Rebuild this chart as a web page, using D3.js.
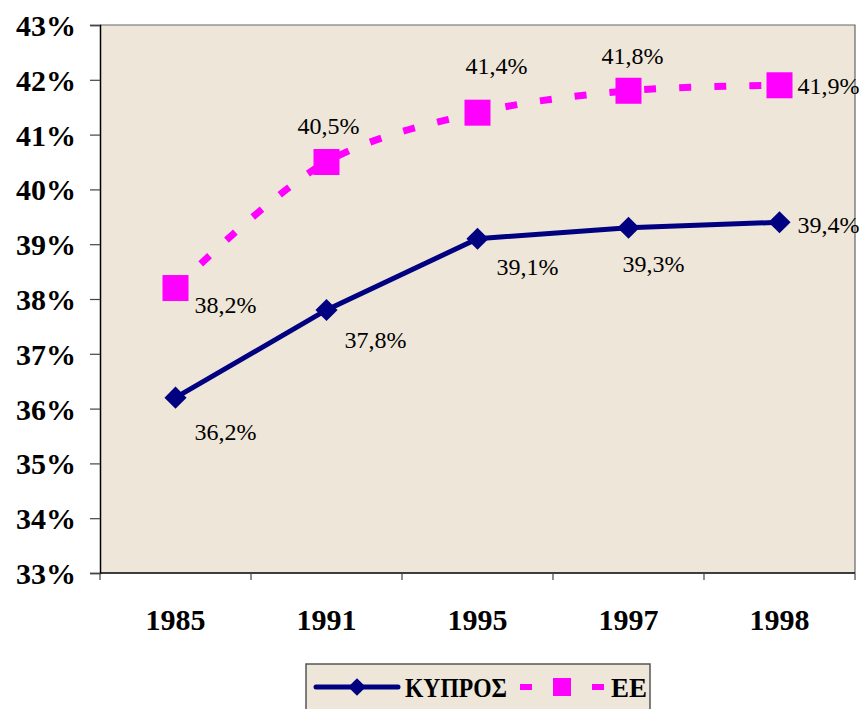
<!DOCTYPE html>
<html>
<head>
<meta charset="utf-8">
<script src="https://cdn.jsdelivr.net/npm/d3@7"></script>
<style>
  body { margin: 0; background: #fff; }
  svg { display: block; }
</style>
</head>
<body>
<div id="chart"></div>
<script>
//Chart Data
const years = ["1985", "1991", "1995", "1997", "1998"];
const kyprosValues = [36.2, 37.8, 39.1, 39.3, 39.4];
const eeValues = [38.2, 40.5, 41.4, 41.8, 41.9];
const yTicks = [33, 34, 35, 36, 37, 38, 39, 40, 41, 42, 43];
const seriesNames = ["ΚΥΠΡΟΣ", "ΕΕ"];

//Chart Variables and Constants
const width = 862;
const height = 709;
const plot = { left: 100, top: 25, right: 855, bottom: 573 };
const bg = "#EEE6D8";
const navy = "#000080";
const magenta = "#FF00FF";
const serif = "Liberation Serif";
const fmt = (v) => v.toFixed(1).replace(".", ",") + "%";

//Label offsets (dx, dy, anchor) per point
const kyprosLabelPos = [[19, 34, "start"], [18, 30, "start"], [19, 28, "start"], [-6, 36, "start"], [18, 2, "start"]];
const eeLabelPos = [[19, 17, "start"], [2, -36, "middle"], [19, -47, "middle"], [4, -35, "middle"], [18, 0, "start"]];

const svg = d3.select("#chart").append("svg")
  .attr("width", width)
  .attr("height", height)
  .attr("font-family", serif);

//Scales
const x = d3.scaleBand().domain(years).range([plot.left, plot.right]);
const y = d3.scaleLinear().domain([33, 43]).range([plot.bottom, plot.top]);
const cx = (d) => x(d) + x.bandwidth() / 2;

//Plot background
svg.append("rect")
  .attr("x", plot.left).attr("y", plot.top)
  .attr("width", plot.right - plot.left).attr("height", plot.bottom - plot.top)
  .attr("fill", bg);
svg.append("path")
  .attr("d", `M${plot.left},${plot.top}H${plot.right}V${plot.bottom}`)
  .attr("fill", "none").attr("stroke", "#666").attr("stroke-width", 1.2);

//Y Axis
const yAxis = svg.append("g")
  .attr("transform", `translate(${plot.left},0)`)
  .call(d3.axisLeft(y).tickValues(yTicks).tickSize(10).tickPadding(14).tickFormat((d) => d + "%"))
  .attr("font-family", serif);
yAxis.select(".domain").attr("stroke", "#000").attr("stroke-width", 1.5);
yAxis.selectAll(".tick line").attr("stroke", "#444").attr("stroke-width", 1.2);
yAxis.selectAll("text")
  .attr("font-family", serif)
  .attr("font-weight", "bold").attr("font-size", "30px").attr("fill", "#000")
  .attr("dy", "0.35em");

//X Axis with ticks at band boundaries
const xAxisG = svg.append("g").attr("transform", `translate(0,${plot.bottom})`);
xAxisG.append("line")
  .attr("x1", plot.left).attr("x2", plot.right)
  .attr("stroke", "#000").attr("stroke-width", 1.5);
const bounds = years.map((d) => x(d)).concat([plot.right]);
xAxisG.selectAll(".xt").data(bounds).enter().append("line")
  .attr("x1", (d) => d).attr("x2", (d) => d)
  .attr("y1", 0).attr("y2", 7)
  .attr("stroke", "#444").attr("stroke-width", 1.2);
xAxisG.selectAll(".xl").data(years).enter().append("text")
  .attr("x", cx).attr("y", 57)
  .attr("text-anchor", "middle")
  .attr("font-family", serif)
  .attr("font-weight", "bold").attr("font-size", "30px")
  .text((d) => d);

//Lines
const straight = d3.line().x((d, i) => cx(years[i])).y((d) => y(d));
const smooth = d3.line().x((d, i) => cx(years[i])).y((d) => y(d)).curve(d3.curveCatmullRom.alpha(0.5));
svg.append("path").datum(eeValues)
  .attr("d", smooth).attr("fill", "none")
  .attr("stroke", magenta).attr("stroke-width", 7)
  .attr("stroke-dasharray", "12,23");
svg.append("path").datum(kyprosValues)
  .attr("d", straight).attr("fill", "none")
  .attr("stroke", navy).attr("stroke-width", 5);

//Markers
svg.selectAll(".sq").data(eeValues).enter().append("rect")
  .attr("x", (d, i) => cx(years[i]) - 13)
  .attr("y", (d) => y(d) - 13)
  .attr("width", 26).attr("height", 26)
  .attr("fill", magenta);
svg.selectAll(".dm").data(kyprosValues).enter().append("path")
  .attr("d", d3.symbol().type(d3.symbolDiamond2).size(312))
  .attr("transform", (d, i) => `translate(${cx(years[i])},${y(d)})`)
  .attr("fill", navy);

//Data Labels
function addLabels(values, pos) {
  svg.append("g").selectAll("text").data(values).enter().append("text")
    .attr("x", (d, i) => cx(years[i]) + pos[i][0])
    .attr("y", (d, i) => y(d) + pos[i][1])
    .attr("dy", "0.35em")
    .attr("text-anchor", (d, i) => pos[i][2])
    .attr("font-family", serif)
    .attr("font-size", "24px").attr("fill", "#000")
    .text(fmt);
}
addLabels(kyprosValues, kyprosLabelPos);
addLabels(eeValues, eeLabelPos);

//Legend
const legend = svg.append("g");
legend.append("rect")
  .attr("x", 306).attr("y", 664).attr("width", 344).attr("height", 60)
  .attr("fill", bg).attr("stroke", "#555").attr("stroke-width", 1.5);
legend.append("line")
  .attr("x1", 316).attr("x2", 398).attr("y1", 687).attr("y2", 687)
  .attr("stroke", navy).attr("stroke-width", 5).attr("stroke-linecap", "round");
legend.append("path")
  .attr("d", d3.symbol().type(d3.symbolDiamond2).size(200))
  .attr("transform", "translate(357,687)")
  .attr("fill", navy);
legend.append("text")
  .attr("x", 405).attr("y", 697)
  .attr("font-family", serif)
  .attr("font-weight", "bold").attr("font-size", "27px")
  .attr("textLength", 102).attr("lengthAdjust", "spacingAndGlyphs")
  .text(seriesNames[0]);
legend.append("line")
  .attr("x1", 520).attr("x2", 604).attr("y1", 687).attr("y2", 687)
  .attr("stroke", magenta).attr("stroke-width", 6)
  .attr("stroke-dasharray", "12,60");
legend.append("rect")
  .attr("x", 553).attr("y", 678).attr("width", 18).attr("height", 18)
  .attr("fill", magenta);
legend.append("text")
  .attr("x", 611).attr("y", 697)
  .attr("font-family", serif)
  .attr("font-weight", "bold").attr("font-size", "27px")
  .text(seriesNames[1]);
</script>
</body>
</html>
